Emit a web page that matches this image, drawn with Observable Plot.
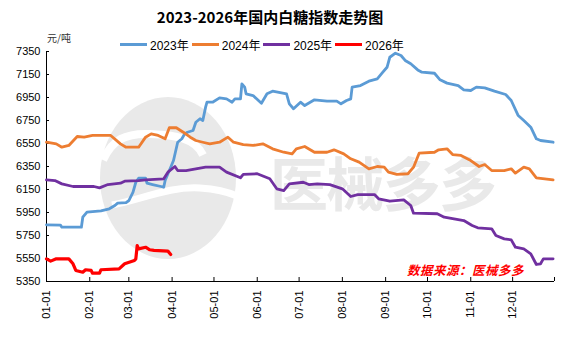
<!DOCTYPE html>
<html><head><meta charset="utf-8">
<script src="https://cdn.jsdelivr.net/npm/d3@7"></script>
<script src="https://cdn.jsdelivr.net/npm/@observablehq/plot@0.6"></script>
<style>
body{margin:0;background:#fff;}
#wrap{position:relative;width:568px;height:341px;overflow:hidden;font-family:"Liberation Sans","Noto Sans CJK SC",sans-serif;}
#wm,#chart{position:absolute;left:0;top:0;}
#title{position:absolute;top:6px;left:0;width:540px;text-align:center;font:bold 15px "Noto Sans CJK SC",sans-serif;color:#000;}
#unit{position:absolute;left:47px;top:30px;font:10px "Noto Sans CJK SC",sans-serif;color:#333;}
#legend{position:absolute;left:120px;top:36px;display:flex;font:12px "Liberation Sans","Noto Sans CJK SC",sans-serif;color:#000;}
#legend .it{display:flex;align-items:center;margin-right:3px;}
#legend .sw{width:27px;height:3px;margin-right:3px;}
#src{position:absolute;left:407px;top:260px;font:italic bold 12.5px "Noto Sans CJK SC",sans-serif;color:#ff0000;letter-spacing:0.5px;}
</style></head>
<body>
<div id="wrap">
<svg id="wm" width="568" height="341">
  <ellipse cx="168" cy="178" rx="68" ry="81" fill="#e9e9e9"/>
  <path d="M103,160 C112,140 125,133 150,134 C175,135 195,138 203,155" fill="none" stroke="#fff" stroke-width="8"/>
  <path d="M112,205 C140,200 170,186 200,188 C215,189 228,192 237,196" fill="none" stroke="#fff" stroke-width="7"/>
  <text x="270" y="206" font-size="58" font-weight="bold" fill="#e9e9e9" font-family="Noto Sans CJK SC" textLength="227">医械多多</text>
</svg>
<div id="chart"></div>
<div id="title">2023-2026年国内白糖指数走势图</div>
<div id="unit">元/吨</div>
<div id="legend"></div>
<div id="src">数据来源：医械多多</div>
</div>
<script>
const years = ["2023年", "2024年", "2025年", "2026年"];
const colors = ["#5b9bd5", "#ed7d31", "#7030a0", "#ff0000"];
const yTicks = [5350, 5550, 5750, 5950, 6150, 6350, 6550, 6750, 6950, 7150, 7350];
const monthTicks = ["01-01","02-01","03-01","04-01","05-01","06-01","07-01","08-01","09-01","10-01","11-01","12-01"];

const s2023 = [["01-01",5843],["01-11",5840],["01-12",5822],["01-26",5822],["01-27",5909],["01-30",5953],["02-09",5965],["02-15",5982],["02-19",6011],["02-21",6031],["02-27",6035],["03-01",6054],["03-04",6127],["03-06",6213],["03-08",6248],["03-13",6248],["03-14",6205],["03-18",6193],["03-24",6176],["03-26",6170],["03-27",6228],["03-31",6344],["04-02",6402],["04-05",6561],["04-08",6591],["04-10",6634],["04-12",6648],["04-16",6663],["04-18",6735],["04-21",6765],["04-23",6750],["04-25",6866],["04-26",6909],["04-30",6909],["05-05",6947],["05-10",6938],["05-14",6909],["05-16",6938],["05-20",6938],["05-21",7069],["05-23",7040],["05-24",6982],["05-29",6967],["06-04",6900],["06-08",6982],["06-12",7005],["06-22",6982],["06-24",6895],["06-27",6852],["07-02",6909],["07-05",6880],["07-12",6930],["07-21",6918],["07-28",6918],["07-31",6895],["08-04",6924],["08-07",6938],["08-08",7040],["08-14",7054],["08-20",7092],["08-26",7112],["08-30",7170],["09-02",7213],["09-04",7300],["09-08",7335],["09-12",7315],["09-15",7272],["09-19",7243],["09-24",7190],["09-27",7170],["10-06",7161],["10-10",7104],["10-15",7075],["10-23",7054],["10-27",7017],["11-01",7011],["11-05",7040],["11-11",7034],["11-18",7005],["11-26",6976],["11-30",6924],["12-05",6793],["12-09",6750],["12-14",6692],["12-18",6591],["12-21",6576],["12-30",6561]];
const s2024 = [["01-01",6561],["01-08",6547],["01-12",6518],["01-17",6533],["01-23",6611],["01-28",6605],["02-03",6620],["02-16",6620],["02-23",6547],["02-27",6518],["03-08",6518],["03-13",6605],["03-17",6634],["03-22",6620],["03-27",6591],["03-30",6687],["04-04",6687],["04-09",6648],["04-14",6605],["04-18",6576],["04-23",6561],["04-28",6547],["05-05",6561],["05-11",6605],["05-15",6561],["05-22",6541],["05-29",6533],["06-05",6547],["06-12",6504],["06-20",6474],["06-26",6460],["06-29",6504],["07-05",6524],["07-12",6474],["07-21",6474],["07-26",6495],["08-02",6460],["08-07",6417],["08-13",6388],["08-20",6330],["08-26",6350],["08-31",6344],["09-03",6301],["09-09",6281],["09-17",6287],["09-21",6344],["09-25",6466],["10-06",6474],["10-09",6495],["10-15",6504],["10-19",6454],["10-25",6446],["11-01",6402],["11-07",6350],["11-11",6367],["11-16",6315],["11-25",6315],["11-30",6330],["12-03",6292],["12-09",6344],["12-13",6330],["12-18",6252],["12-30",6234]];
const s2025 = [["01-01",6234],["01-07",6228],["01-12",6199],["01-20",6176],["02-04",6176],["02-08",6164],["02-14",6193],["02-23",6205],["02-26",6222],["03-08",6228],["03-13",6234],["03-26",6243],["03-29",6301],["04-03",6350],["04-05",6315],["04-11",6315],["04-18",6330],["04-25",6344],["05-05",6344],["05-10",6301],["05-20",6252],["05-22",6281],["06-01",6287],["06-10",6243],["06-15",6156],["06-20",6141],["06-24",6199],["07-04",6213],["07-08",6193],["07-14",6199],["07-23",6193],["08-01",6156],["08-07",6089],["08-12",6106],["08-24",6106],["08-27",6069],["09-04",6048],["09-14",6060],["09-19",6011],["09-21",5944],["10-08",5939],["10-13",5909],["10-20",5895],["10-27",5880],["11-02",5837],["11-06",5817],["11-16",5808],["11-19",5750],["11-25",5721],["11-30",5712],["12-03",5648],["12-09",5634],["12-14",5591],["12-18",5498],["12-21",5504],["12-23",5547],["12-30",5547]];
const s2026 = [["01-01",5547],["01-04",5527],["01-08",5547],["01-17",5547],["01-20",5504],["01-22",5446],["01-27",5431],["01-29",5452],["02-02",5446],["02-03",5422],["02-08",5422],["02-09",5452],["02-22",5460],["02-26",5504],["03-05",5533],["03-06",5547],["03-07",5663],["03-08",5634],["03-13",5648],["03-16",5626],["03-19",5620],["03-29",5614],["03-31",5585]];

const series = [s2023, s2024, s2025, s2026];
const toDate = s => { const [m, d] = s.split("-").map(Number); return new Date(Date.UTC(2023, m - 1, d)); };
const xStart = toDate("01-01"), xEnd = toDate("12-31");
const widths = [2.8, 2.8, 2.8, 3.2];

const lineMarks = series.map((s, i) =>
  Plot.line(s.map(([d, v]) => ({date: toDate(d), value: v})),
    {x: "date", y: "value", stroke: colors[i], strokeWidth: widths[i], strokeLinejoin: "round", strokeLinecap: "round"}));

const chart = Plot.plot({
  width: 568, height: 341,
  marginTop: 51, marginBottom: 60, marginLeft: 46, marginRight: 14,
  style: {background: "transparent", fontFamily: "Liberation Sans, Arial, sans-serif", fontSize: "11px", color: "#000"},
  x: {type: "utc", domain: [xStart, xEnd]},
  y: {domain: [5350, 7350]},
  marks: [
    Plot.axisY({ticks: yTicks, tickSize: 0, tickPadding: 6, tickFormat: d => String(d), label: null}),
    Plot.axisY({ticks: yTicks, tickSize: 3, text: null, dx: 3, label: null}),
    Plot.axisX({ticks: monthTicks.map(toDate), tickSize: 0, tickRotate: -90, tickPadding: 9, tickFormat: d3.utcFormat("%m-%d"), label: null}),
    Plot.axisX({ticks: [...monthTicks.map(toDate), xEnd], tickSize: 4, text: null, dy: -4, label: null}),
    Plot.ruleY([5350], {stroke: "#000"}),
    Plot.ruleX([xStart], {stroke: "#000"}),
    ...lineMarks
  ]
});
document.getElementById("chart").appendChild(chart);

const lg = document.getElementById("legend");
years.forEach((y, i) => {
  const it = document.createElement("div"); it.className = "it";
  it.innerHTML = `<span class="sw" style="background:${colors[i]}"></span><span>${y}</span>`;
  lg.appendChild(it);
});
</script>
</body></html>
